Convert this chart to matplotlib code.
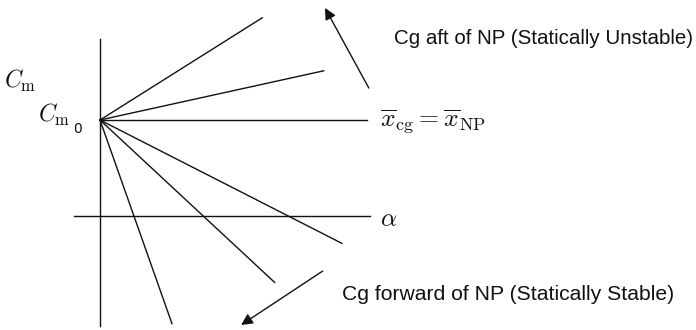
import matplotlib
matplotlib.use("Agg")
import matplotlib.pyplot as plt

# Pitching moment curves Cm = Cm0 + slope * alpha for several cg positions
CM0 = 1.0
SLOPES = [0.63, 0.22, 0.0, -0.51, -0.93, -2.83]
ALPHA_END = [1.69, 2.33, 2.78, 2.52, 1.82, 0.75]

# axis extents (alpha, Cm units)
ALPHA_AXIS = [-0.27, 2.81]
CM_AXIS = [-1.146, 1.84]

# direction arrows: (tail, head)
ARROW_UP = [(2.80, 1.333), (2.344, 2.167)]
ARROW_DOWN = [(2.32, -0.573), (1.47, -1.135)]

LABEL_UP = "Cg aft of NP (Statically Unstable)"
LABEL_DOWN = "Cg forward of NP (Statically Stable)"

plt.rcParams["mathtext.fontset"] = "cm"
plt.rcParams["font.family"] = ["Liberation Sans", "DejaVu Sans"]

fig = plt.figure(figsize=(6.96, 3.30), dpi=100)
ax = fig.add_axes([0, 0, 1, 1])
ax.set_xlim(-1.0417, 6.208)
ax.set_ylim(-1.1875, 2.25)
ax.axis("off")

ink = "#111111"
lw = 1.0

# coordinate axes
ax.plot([0, 0], CM_AXIS, color=ink, lw=lw)
ax.plot(ALPHA_AXIS, [0, 0], color=ink, lw=lw)

# moment lines fanning out from Cm0
for s, a in zip(SLOPES, ALPHA_END):
    ax.plot([0, a], [CM0, CM0 + s * a], color=ink, lw=lw)

for tail, head in (ARROW_UP, ARROW_DOWN):
    ax.annotate("", xy=head, xytext=tail,
                arrowprops=dict(arrowstyle="-|>", color=ink, lw=lw,
                                mutation_scale=17, shrinkA=0, shrinkB=0))

ax.text(3.06, 1.854, LABEL_UP, fontsize=14.8, color=ink, va="center", ha="left")
ax.text(2.52, -0.82, LABEL_DOWN, fontsize=15.2, color=ink, va="center", ha="left")

ax.text(-1.0, 1.333, r"$C_{\rm m}$", fontsize=17, color=ink, va="baseline", ha="left")
ax.text(-0.645, 0.979, r"$C_{\rm m}$", fontsize=17, color=ink, va="baseline", ha="left")
ax.text(-0.28, 0.865, "0", fontsize=10, color=ink, va="baseline", ha="left",
        family="DejaVu Sans")
ax.text(2.92, 0.927, r"$\overline{x}_{\rm cg} = \overline{x}_{\rm NP}$",
        fontsize=18.5, color=ink, va="baseline", ha="left")
ax.text(2.917, -0.104, r"$\alpha$", fontsize=18, color=ink, va="baseline", ha="left")

fig.savefig("out.png", dpi=100)
